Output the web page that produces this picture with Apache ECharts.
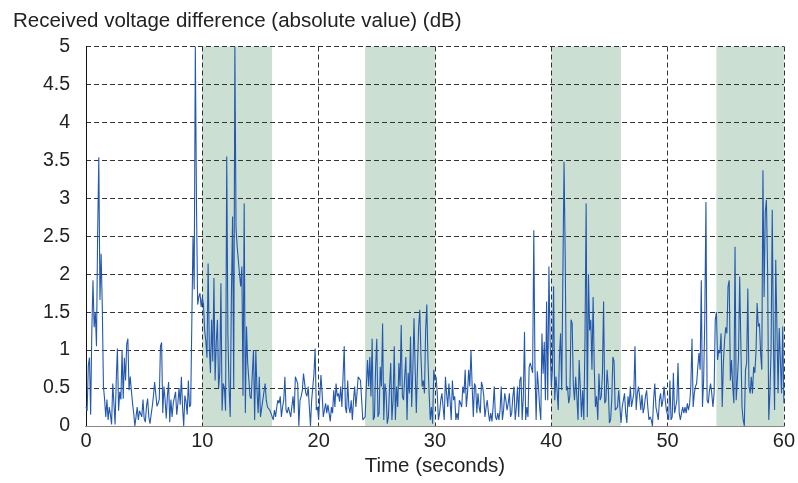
<!DOCTYPE html>
<html>
<head>
<meta charset="utf-8">
<script src="https://cdn.jsdelivr.net/npm/echarts@6/dist/echarts.min.js"></script>
<style>html,body{margin:0;padding:0;background:#fff}#c{width:798px;height:483px}</style>
</head>
<body>
<div id="c"></div>
<script>
// sampling step (seconds)
const T_STEP = 0.1;
// received voltage difference (dB), one array per 10 s
const seg0 = [0.25,0.2,0.8,0.9,0.15,1.25,1.92,1.3,1.5,1.05,
  2.52,3.54,1.66,2.27,1.57,0.52,0.35,0.12,0.35,0.08,
  0.25,0.15,0.02,0.56,0.3,0.02,0.6,1.02,0.2,0.45,
  0.35,1.0,0.36,0.9,0.6,1.08,1.15,0.47,0.65,0.47,
  0.3,0.17,0.0,0.12,0.25,0.08,0.2,0.22,0.12,0.35,
  0.1,0.05,0.26,0.36,0.12,0.03,0.15,0.26,0.4,0.58,
  0.42,0.26,0.3,0.35,1.05,1.1,0.17,0.52,0.35,0.1,
  0.4,0.58,0.05,0.35,0.12,0.3,0.28,0.45,0.15,0.3,
  0.5,0.28,0.65,0.25,0.0,0.4,0.32,0.15,0.6,0.25,
  0.28,0.3,2.5,1.8,5.0,2.9,1.6,1.7,1.75,1.57];
const seg10 = [1.7,1.6,1.26,1.13,0.9,2.14,1.05,0.7,1.4,0.85,
  1.95,0.6,1.1,1.4,0.5,0.7,1.88,0.2,0.56,0.5,
  0.2,3.55,1.2,0.5,0.12,1.7,2.76,0.5,5.0,2.6,
  2.36,2.36,2.0,1.84,2.1,0.4,2.93,0.17,1.31,0.83,
  0.61,0.39,0.36,0.69,1.0,0.08,1.0,0.47,0.17,0.65,
  0.12,0.12,0.34,0.34,0.56,0.34,0.25,0.25,0.21,0.17,
  0.17,0.08,0.21,0.12,0.25,0.34,0.3,0.39,0.12,0.25,
  0.34,0.65,0.21,0.17,0.25,0.25,0.12,0.12,0.39,0.17,
  0.65,0.65,0.56,0.0,0.34,0.39,0.47,0.69,0.69,0.43,
  0.39,0.52,0.25,0.0,0.34,0.34,0.69,1.02,0.21,0.25];
const seg20 = [0.08,0.39,0.67,0.43,0.12,0.12,0.3,0.17,0.28,0.28,
  0.06,0.25,0.17,0.47,0.25,0.56,0.39,0.43,0.32,0.52,
  0.25,0.65,1.05,0.25,0.17,0.6,0.25,0.17,0.34,0.08,
  0.34,0.52,0.25,0.43,0.65,0.67,0.6,0.34,0.08,0.06,
  0.12,0.52,0.87,0.52,0.91,0.39,1.15,0.08,0.12,0.78,
  1.15,0.12,0.17,0.78,0.52,1.35,0.08,0.56,0.43,0.03,
  0.12,0.52,0.83,0.08,0.34,1.05,0.08,0.52,0.25,0.83,
  0.52,1.33,0.39,0.34,0.65,0.91,0.08,0.7,0.43,1.18,
  0.25,0.74,1.42,0.74,0.17,0.78,1.31,1.53,0.91,0.52,
  0.6,0.43,1.26,1.6,0.87,0.43,0.08,0.25,0.03,0.74];
const seg30 = [0.6,0.65,0.43,0.08,0.17,0.34,0.43,0.25,0.08,0.65,
  0.43,0.25,0.56,0.34,0.08,0.6,0.34,0.39,0.08,0.17,
  0.08,0.34,0.3,0.25,0.52,0.43,0.74,0.25,0.43,0.74,
  0.52,1.0,0.52,0.12,0.56,0.52,0.17,0.43,0.25,0.17,
  0.58,0.52,0.39,0.12,0.25,0.34,0.17,0.06,0.17,0.06,
  0.25,0.52,0.12,0.08,0.17,0.08,0.21,0.52,0.08,0.21,
  0.43,0.34,0.21,0.3,0.43,0.12,0.17,0.39,0.52,0.08,
  0.25,0.52,0.12,0.6,0.65,0.08,0.39,1.24,0.08,0.25,
  0.12,0.78,0.83,0.83,0.7,2.58,0.78,0.08,0.72,0.52,
  0.25,0.08,1.22,0.69,1.11,0.34,1.64,0.34,2.1,1.13];
const seg40 = [0.52,0.74,1.84,0.34,0.65,0.47,0.21,0.91,1.22,0.47,
  2.0,3.48,2.23,0.47,0.52,0.3,0.39,1.4,1.35,0.52,
  0.34,0.65,0.39,0.08,0.87,0.87,0.12,0.47,0.08,1.13,
  2.93,0.12,2.0,1.26,1.4,0.74,1.7,0.74,0.25,0.39,
  0.08,0.69,0.34,0.39,0.69,1.64,0.3,0.34,0.74,0.52,
  0.04,0.08,0.34,0.91,0.85,0.21,0.21,0.25,0.47,0.25,
  0.04,0.25,0.34,0.43,0.17,0.04,0.39,0.25,0.52,0.25,
  0.34,0.43,1.05,0.21,0.43,0.52,0.39,0.21,0.41,0.17,
  0.25,0.39,0.47,0.25,0.08,0.12,0.08,0.0,0.34,0.56,
  0.25,0.17,0.08,0.34,0.43,0.25,0.34,0.52,0.34,0.21];
const seg50 = [0.21,0.08,0.6,0.08,0.12,0.7,0.17,0.25,0.34,0.83,
  0.17,0.08,0.17,0.25,0.17,0.25,0.17,0.3,0.21,0.3,
  0.52,1.15,0.25,0.43,0.52,0.56,0.78,0.96,0.74,1.92,
  0.25,0.6,1.4,2.95,0.34,0.3,0.47,0.56,0.43,0.25,
  0.43,1.4,1.5,0.87,1.0,0.96,1.22,0.25,0.83,1.13,
  1.3,1.22,1.84,1.92,0.6,0.87,0.52,0.3,2.36,0.34,
  0.6,0.91,1.97,1.09,0.25,0.08,0.0,0.74,0.83,1.81,
  0.52,0.43,0.65,0.43,0.78,0.7,0.96,1.62,1.31,1.35,
  0.96,0.74,3.37,1.7,2.82,2.98,2.05,0.08,0.43,1.0,
  2.85,1.13,0.21,2.19,1.31,0.43,1.29,1.31,0.43,1.31];
const segEnd = [0.3];
// shaded intervals (seconds)
const bands = [[10, 16], [24, 30], [40, 46], [54.2, 60]];
const xTicks = [0, 10, 20, 30, 40, 50, 60];
const yTicks = [0, 0.5, 1, 1.5, 2, 2.5, 3, 3.5, 4, 4.5, 5];

const values = [].concat(seg0, seg10, seg20, seg30, seg40, seg50, segEnd);
const data = values.map((v, i) => [Math.round(i * T_STEP * 10) / 10, v]);

const FONT = 'Liberation Sans, Arial, sans-serif';
const chart = echarts.init(document.getElementById('c'), null, {renderer: 'canvas'});
chart.setOption({
  animation: false,
  backgroundColor: '#fff',
  textStyle: {fontFamily: FONT},
  title: {
    text: 'Received voltage difference (absolute value) (dB)',
    left: 8, top: 6,
    textStyle: {fontSize: 20.5, fontWeight: 'normal', color: '#222', fontFamily: FONT}
  },
  grid: {left: 86, right: 13, top: 46.5, bottom: 57, show: false},
  xAxis: [{
    type: 'value', min: xTicks[0], max: xTicks[xTicks.length - 1], interval: 10, z: 3,
    axisLine: {show: true, lineStyle: {color: '#111', width: 1}},
    axisTick: {show: false},
    axisLabel: {fontSize: 20, color: '#222', margin: 5, fontFamily: FONT},
    splitLine: {show: true, lineStyle: {type: [5, 3], color: '#333', width: 1}},
    name: 'Time (seconds)', nameLocation: 'middle', nameGap: 30,
    nameTextStyle: {fontSize: 20.5, color: '#222', fontFamily: FONT}
  }, {
    type: 'value', position: 'top', min: xTicks[0], max: xTicks[xTicks.length - 1], z: 4,
    axisLine: {show: true, lineStyle: {color: '#888', width: 1.2}},
    axisTick: {show: false}, axisLabel: {show: false}, splitLine: {show: false}
  }],
  yAxis: [{
    type: 'value', min: yTicks[0], max: yTicks[yTicks.length - 1], interval: 0.5, z: 3,
    axisLine: {show: true, lineStyle: {color: '#111', width: 1}},
    axisTick: {show: false},
    axisLabel: {fontSize: 19.5, color: '#222', margin: 16, fontFamily: FONT},
    splitLine: {show: true, lineStyle: {type: [5, 3], color: '#333', width: 1}}
  }, {
    type: 'value', position: 'right', min: yTicks[0], max: yTicks[yTicks.length - 1], z: 4,
    axisLine: {show: true, lineStyle: {color: '#111', width: 1}},
    axisTick: {show: false}, axisLabel: {show: false}, splitLine: {show: false}
  }],
  series: [{
    type: 'line', data: data, symbol: 'none', showSymbol: false, z: 5,
    lineStyle: {color: '#2458b0', width: 1.1},
    markArea: {
      silent: true, z: 1,
      itemStyle: {color: '#cbe0d2'},
      data: bands.map(b => [{xAxis: b[0]}, {xAxis: b[1]}])
    }
  }]
});
</script>
</body>
</html>
